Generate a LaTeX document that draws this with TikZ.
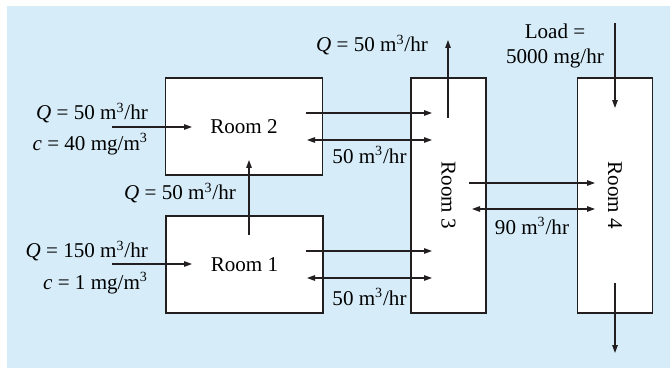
\documentclass[tikz,border=0pt]{standalone}
\usepackage{fontspec}
\setmainfont{Liberation Serif}
\usetikzlibrary{positioning,arrows.meta,calc}
\definecolor{cink}{HTML}{231f20}
\definecolor{csky}{HTML}{d6edf9}
\newcommand{\qty}[2]{\textit{#1} = #2}
\begin{document}
\begin{tikzpicture}[x=0.02cm, y=-0.02cm,
    every node/.style={font=\fontsize{12}{14}\selectfont, inner sep=1pt},
    room/.style={draw=cink, fill=white, line width=1pt},
    flow/.style={draw=cink, line width=0.7pt, -{Triangle[length=1.6mm,width=1.1mm]}},
    swap/.style={draw=cink, line width=0.7pt, {Triangle[length=1.6mm,width=1.1mm]}-{Triangle[length=1.6mm,width=1.1mm]}}]
  \useasboundingbox (0,0) rectangle (670,368);
  \fill[csky] (7,6) rectangle (670,368);
  % rooms
  \node[room, minimum width=3.14cm, minimum height=1.94cm] (room2) at (244,126.5) {Room 2};
  \node[room, minimum width=3.14cm, minimum height=1.94cm] (room1) at (244.5,264.5) {Room 1};
  \node[room, minimum width=4.7cm, minimum height=1.5cm, rotate=-90] (room3) at (448.5,195.5) {Room 3};
  \node[room, minimum width=4.7cm, minimum height=1.5cm, rotate=-90] (room4) at (615,195.5) {Room 4};
  % free ends of the flows
  \coordinate (in2a) at (112,127);  \coordinate (in2b) at (192,127);
  \coordinate (in1a) at (112,264);  \coordinate (in1b) at (192,264);
  \coordinate (up1) at (249,235);   \coordinate (up2) at (249,160);
  \coordinate (f23a) at (306,113);  \coordinate (f23b) at (432,113);
  \coordinate (x23a) at (307,140);  \coordinate (x23b) at (432,140);
  \coordinate (f13a) at (306,251);  \coordinate (f13b) at (432,251);
  \coordinate (x13a) at (307,278);  \coordinate (x13b) at (432,278);
  \coordinate (out3a) at (448,118); \coordinate (out3b) at (448,40);
  \coordinate (f34a) at (469,183);  \coordinate (f34b) at (595,183);
  \coordinate (x34a) at (472,209);  \coordinate (x34b) at (595,209);
  \coordinate (loada) at (615,23);  \coordinate (loadb) at (615,108);
  \coordinate (out4a) at (615,283); \coordinate (out4b) at (615,353);
  \draw[flow] (in2a) -- (in2b);
  \draw[flow] (in1a) -- (in1b);
  \draw[flow] (up1) -- (up2);
  \draw[flow] (f23a) -- (f23b);
  \draw[swap] (x23a) -- (x23b);
  \draw[flow] (f13a) -- (f13b);
  \draw[swap] (x13a) -- (x13b);
  \draw[flow] (out3a) -- (out3b);
  \draw[flow] (f34a) -- (f34b);
  \draw[swap] (x34a) -- (x34b);
  \draw[flow] (loada) -- (loadb);
  \draw[flow] (out4a) -- (out4b);
  % labels
  \node[anchor=east] (q2) at (150,113) {\qty{Q}{50 m\textsuperscript{3}/hr}};
  \node[anchor=east] (c2) at (150,144) {\qty{c}{40 mg/m\textsuperscript{3}}};
  \node[anchor=east] (q1) at (150,251) {\qty{Q}{150 m\textsuperscript{3}/hr}};
  \node[anchor=east] (c1) at (150,283) {\qty{c}{1 mg/m\textsuperscript{3}}};
  \node[anchor=east] (q12) at (238,193) {\qty{Q}{50 m\textsuperscript{3}/hr}};
  \node[anchor=east] (q3) at (430,45) {\qty{Q}{50 m\textsuperscript{3}/hr}};
  \node (x23) at (369.5,155) {50 m\textsuperscript{3}/hr};
  \node (x13) at (369.5,297) {50 m\textsuperscript{3}/hr};
  \node (x34) at (532,226) {90 m\textsuperscript{3}/hr};
  \node[align=center] (load) at (555,46) {Load =\\5000 mg/hr};
\end{tikzpicture}
\end{document}
